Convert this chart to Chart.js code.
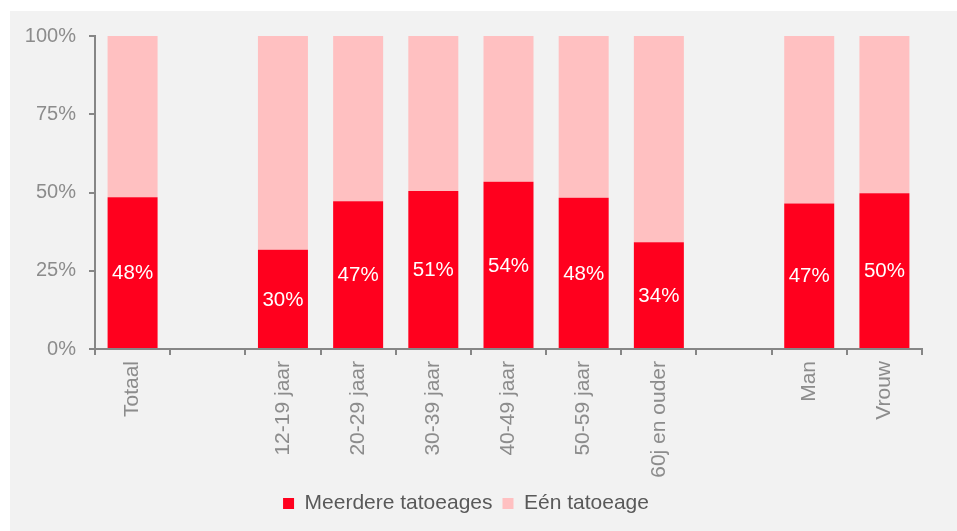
<!DOCTYPE html>
<html>
<head>
<meta charset="utf-8">
<script src="https://cdn.jsdelivr.net/npm/chart.js@4/dist/chart.umd.min.js"></script>
<style>
  html, body { margin: 0; padding: 0; background: #ffffff; width: 957px; height: 531px; overflow: hidden; }
  #wrap { position: absolute; left: 10px; top: 11px; width: 947px; height: 520px; background: #f2f2f2; }
  canvas { display: block; }
</style>
</head>
<body>
<div id="wrap"><canvas id="c" width="947" height="520"></canvas></div>
<script>
// Categories (empty strings are spacer slots)
const categories = ['Totaal', '', '12-19 jaar', '20-29 jaar', '30-39 jaar', '40-49 jaar', '50-59 jaar', '60j en ouder', '', 'Man', 'Vrouw'];
// Share with several tattoos (%)
const meerdere = [48.5, null, 31.7, 47.2, 50.5, 53.4, 48.3, 34.1, null, 46.5, 49.8];
// Share with one tattoo (%)
const een = [51.5, null, 68.3, 52.8, 49.5, 46.6, 51.7, 65.9, null, 53.5, 50.2];
// Printed labels inside the red bars
const meerdereLabels = ['48%', '', '30%', '47%', '51%', '54%', '48%', '34%', '', '47%', '50%'];
const seriesNames = ['Meerdere tatoeages', 'Eén tatoeage'];
const yTicks = [0, 25, 50, 75, 100];

const FONT = '"Liberation Sans", Arial, sans-serif';
const AXIS = '#868686';

const labelPlugin = {
  id: 'barLabels',
  afterDatasetsDraw(chart) {
    const ctx = chart.ctx;
    const meta = chart.getDatasetMeta(0);
    ctx.save();
    ctx.font = '20.5px ' + FONT;
    ctx.fillStyle = '#ffffff';
    ctx.textAlign = 'center';
    ctx.textBaseline = 'middle';
    meta.data.forEach((el, i) => {
      const txt = meerdereLabels[i];
      if (!txt || meerdere[i] == null) return;
      const p = el.getProps(['x', 'y', 'base'], true);
      ctx.fillText(txt, p.x, (p.y + p.base) / 2 + 1);
    });
    ctx.restore();
  }
};

new Chart(document.getElementById('c'), {
  type: 'bar',
  data: {
    labels: categories,
    datasets: [
      { label: seriesNames[0], data: meerdere, backgroundColor: '#ff001e', borderWidth: 0, barPercentage: 0.665, categoryPercentage: 1 },
      { label: seriesNames[1], data: een, backgroundColor: '#ffc0c1', borderWidth: 0, barPercentage: 0.665, categoryPercentage: 1 }
    ]
  },
  options: {
    responsive: false,
    animation: false,
    layout: { padding: { left: 0, right: 35, top: 25, bottom: 7 } },
    plugins: {
      legend: {
        position: 'bottom',
        labels: { boxWidth: 11, boxHeight: 11, padding: 10, color: '#595959', font: { family: FONT, size: 21 } }
      },
      tooltip: { enabled: false }
    },
    scales: {
      x: {
        stacked: true,
        afterFit(s) { s.height = 134; },
        grid: { display: true, drawOnChartArea: false, offset: true, tickLength: 6, color: AXIS, lineWidth: 2 },
        border: { color: AXIS, width: 2 },
        ticks: { maxRotation: 90, minRotation: 90, padding: 6, color: '#8c8c8c', font: { family: FONT, size: 21 }, autoSkip: false }
      },
      y: {
        stacked: true,
        min: 0, max: 100,
        afterFit(s) { s.width = 85; },
        afterBuildTicks(s) { s.ticks = yTicks.map(v => ({ value: v })); },
        grid: { display: true, drawOnChartArea: false, tickLength: 6, color: AXIS, lineWidth: 2 },
        border: { color: AXIS, width: 2 },
        ticks: { padding: 13, color: '#8c8c8c', font: { family: FONT, size: 20 }, callback: v => v + '%' }
      }
    }
  },
  plugins: [labelPlugin]
});
</script>
</body>
</html>
